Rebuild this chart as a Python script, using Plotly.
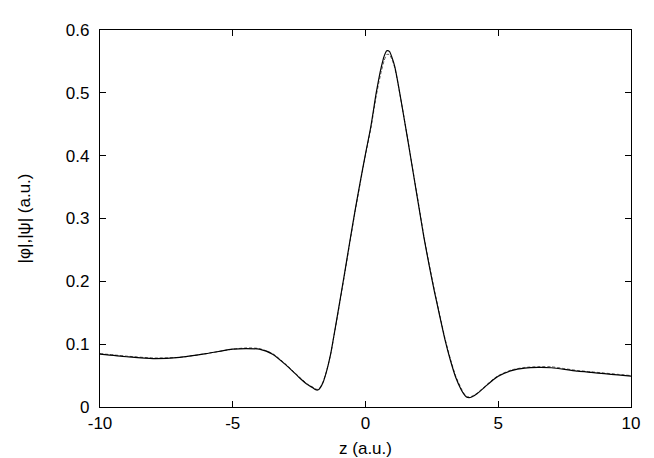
import plotly.graph_objects as go

z_phi = [-10, -9, -8, -7, -6, -5, -4.5, -4, -3.5, -3, -2.5, -2.2, -2.0, -1.9, -1.8, -1.7, -1.6, -1.5,
         -1.4, -1.3, -1.2, -1.0, -0.8, -0.6, -0.4, -0.2, 0.0, 0.2, 0.4, 0.5, 0.6, 0.7, 0.8, 0.9,
         1.0, 1.1, 1.2, 1.3, 1.4, 1.6, 1.8, 2.0, 2.2, 2.4, 2.6, 2.8, 3.0, 3.2, 3.4, 3.6, 3.7,
         3.8, 3.9, 4.0, 4.2, 4.5, 4.8, 5.0, 5.5, 6.0, 6.5, 7.0, 7.5, 8.0, 8.5, 9.0, 9.5, 10]
phi = [0.084, 0.080, 0.077, 0.079, 0.085, 0.092, 0.093, 0.092, 0.084, 0.067, 0.047, 0.036, 0.031,
       0.028, 0.027, 0.031, 0.039, 0.052, 0.068, 0.087, 0.111, 0.160, 0.210, 0.261, 0.311, 0.358,
       0.403, 0.446, 0.499, 0.522, 0.542, 0.558, 0.567, 0.566, 0.556, 0.542, 0.521, 0.497, 0.473,
       0.423, 0.372, 0.321, 0.270, 0.225, 0.183, 0.144, 0.106, 0.074, 0.047, 0.028, 0.021, 0.016,
       0.015, 0.016, 0.021, 0.032, 0.043, 0.049, 0.058, 0.062, 0.063, 0.0625, 0.060, 0.057, 0.055,
       0.053, 0.051, 0.049]

z_psi = z_phi
psi = [0.085, 0.081, 0.078, 0.079, 0.085, 0.092, 0.094, 0.093, 0.085, 0.068, 0.048, 0.037, 0.032,
       0.029, 0.028, 0.032, 0.040, 0.052, 0.068, 0.087, 0.110, 0.158, 0.208, 0.259, 0.309, 0.356,
       0.401, 0.443, 0.494, 0.516, 0.535, 0.551, 0.561, 0.561, 0.553, 0.540, 0.520, 0.497, 0.473,
       0.424, 0.373, 0.323, 0.272, 0.227, 0.185, 0.146, 0.108, 0.076, 0.049, 0.030, 0.022, 0.017,
       0.016, 0.017, 0.022, 0.033, 0.044, 0.050, 0.059, 0.063, 0.064, 0.064, 0.061, 0.058, 0.056,
       0.054, 0.052, 0.050]

x_ticks = [-10, -5, 0, 5, 10]
y_ticks = [0, 0.1, 0.2, 0.3, 0.4, 0.5, 0.6]

fig = go.Figure()
fig.add_trace(go.Scatter(x=z_psi, y=psi, mode="lines",
                         line=dict(color="#555555", width=1, dash="3px,2px", shape="spline", smoothing=0.6)))
fig.add_trace(go.Scatter(x=z_phi, y=phi, mode="lines",
                         line=dict(color="black", width=1.2, shape="spline", smoothing=0.6)))

font = dict(family="Liberation Sans, Arial, sans-serif", size=17, color="black")
fig.update_layout(
    width=654, height=458,
    margin=dict(l=92, r=31, t=22, b=56),
    paper_bgcolor="white", plot_bgcolor="white",
    showlegend=False, font=font,
)
fig.update_xaxes(range=[-10, 10], tickvals=x_ticks, ticktext=[str(t) for t in x_ticks],
                 ticks="inside", ticklen=6, tickcolor="black", showline=True, linecolor="black",
                 linewidth=1.3, mirror="ticks", showgrid=False, zeroline=False,
                 title=dict(text="z (a.u.)", standoff=10, font=font))
fig.update_yaxes(range=[0, 0.6], tickvals=y_ticks, ticktext=["0", "0.1", "0.2", "0.3", "0.4", "0.5", "0.6"],
                 ticks="inside", ticklen=6, tickcolor="black", showline=True, linecolor="black",
                 linewidth=1.3, mirror="ticks", showgrid=False, zeroline=False,
                 ticklabelstandoff=6,
                 title=dict(text="|φ|,|ψ| (a.u.)", standoff=30, font=font))

fig.write_html("out.html")
